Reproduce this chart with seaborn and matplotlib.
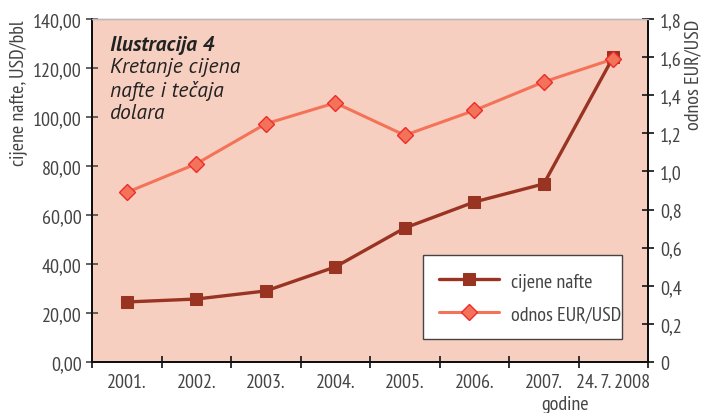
import matplotlib
matplotlib.use("Agg")
import numpy
import pandas
import seaborn as sea
from matplotlib import pyplot
from matplotlib.ticker import FixedLocator, FuncFormatter

# values
years = ["2001.", "2002.", "2003.", "2004.", "2005.", "2006.", "2007.", "24. 7. 2008"]
oil_price = [24.5, 25.7, 29.0, 38.8, 54.7, 65.3, 72.7, 124.5]
eur_usd = [0.89, 1.04, 1.25, 1.36, 1.19, 1.32, 1.47, 1.59]

left_ticks = [0, 20, 40, 60, 80, 100, 120, 140]
right_ticks = [0, 0.2, 0.4, 0.6, 0.8, 1.0, 1.2, 1.4, 1.6, 1.8]

sea.set_theme(style="white")
pyplot.rcParams["font.family"] = ["PT Sans Narrow", "DejaVu Sans"]

BG = "#F7CFC0"
OIL = "#993322"
EUR = "#F47358"
TXT = "#444444"
FS = 14.5

df = pandas.DataFrame({"pos": numpy.arange(len(years)), "oil": oil_price, "eur": eur_usd})

fig = pyplot.figure(figsize=(7.04, 4.14), dpi=100)
ax = fig.add_axes([92 / 704, 1 - 363 / 414, 556 / 704, 343 / 414])
ax.set_facecolor(BG)
ax2 = ax.twinx()

sea.lineplot(data=df, x="pos", y="oil", ax=ax, color=OIL, lw=2.4,
             marker="s", markersize=9, markeredgecolor=OIL, label="cijene nafte",
             legend=False)
sea.lineplot(data=df, x="pos", y="eur", ax=ax2, color=EUR, lw=2.2,
             marker="D", markersize=8.5, markerfacecolor="#F2735A",
             markeredgecolor="#EE2A2A", markeredgewidth=1.0, label="odnos EUR/USD",
             legend=False)

n = len(years)
ax.set_xlim(-0.5, n - 0.5)
ax.set_ylim(0, 140)
ax2.set_ylim(0, 1.8)

ax.xaxis.set_major_locator(FixedLocator(numpy.arange(n + 1) - 0.5))
ax.set_xticklabels([])
ax.set_xticks(numpy.arange(n), years, minor=True)
ax.tick_params(axis="x", which="major", direction="inout", length=9, width=1.3,
               color="#222222", bottom=True)
ax.tick_params(axis="x", which="minor", length=0, pad=8, labelsize=FS,
               labelcolor=TXT)

ax.set_yticks(left_ticks)
ax.yaxis.set_major_formatter(FuncFormatter(lambda v, p: f"{v:.2f}".replace(".", ",")))
ax.tick_params(axis="y", direction="inout", length=9, width=1.3, color="#555555",
               left=True, labelsize=FS, labelcolor=TXT, pad=3)

ax2.set_yticks(right_ticks)
ax2.yaxis.set_major_formatter(
    FuncFormatter(lambda v, p: "0" if v == 0 else f"{v:.1f}".replace(".", ",")))
ax2.tick_params(axis="y", direction="inout", length=9, width=1.3, color="#222222",
                right=True, labelsize=FS, labelcolor=TXT, pad=4)

ax.set_xlabel("")
ax.set_ylabel("cijene nafte, USD/bbl", loc="top", fontsize=FS, color=TXT, labelpad=4)
ax2.set_ylabel("odnos EUR/USD", loc="top", fontsize=FS, color=TXT, labelpad=2)

for a in (ax, ax2):
    for side in ("left", "bottom", "right"):
        a.spines[side].set_color("#111111")
        a.spines[side].set_linewidth(1.4)
    a.spines["top"].set_color("#BBBBBB")
    a.spines["top"].set_linewidth(1.0)

ax.text(0.032, 0.925, "Ilustracija 4", transform=ax.transAxes, fontsize=15.5,
        fontweight="bold", fontstyle="italic", family="PT Sans", color="#222222",
        va="center")
ax.text(0.032, 0.888, "Kretanje cijena\nnafte i tečaja\ndolara", transform=ax.transAxes,
        fontsize=15.5, fontstyle="italic", family="PT Sans", color="#222222",
        va="top", linespacing=1.22)

h1, l1 = ax.get_legend_handles_labels()
h2, l2 = ax2.get_legend_handles_labels()
leg = ax2.legend(h1 + h2, l1 + l2, loc="lower left",
                 bbox_to_anchor=(0.595, 0.067, 0.358, 0.251), mode="expand",
                 borderaxespad=0, fontsize=FS, handlelength=3.0, handletextpad=0.6,
                 borderpad=0.8, labelspacing=0.75, frameon=True, fancybox=False,
                 framealpha=1, edgecolor="#444444")
leg.get_frame().set_linewidth(1.0)
for t in leg.get_texts():
    t.set_color(TXT)

fig.text(565 / 704, 1 - 396 / 414, "godine", ha="center", va="top", fontsize=FS,
         color=TXT)

fig.savefig("out.png", dpi=100, facecolor="white")
